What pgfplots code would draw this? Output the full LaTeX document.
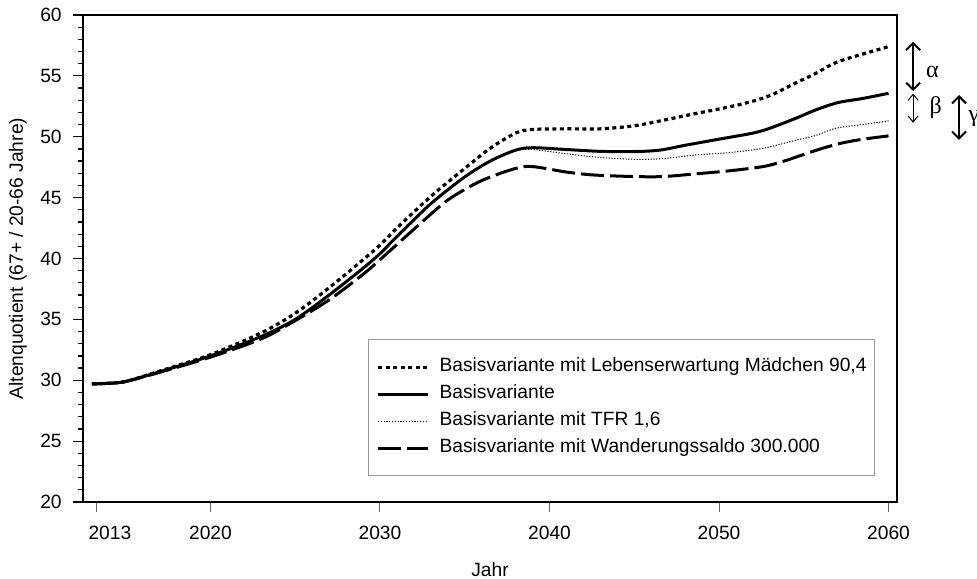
\documentclass[border=0pt]{standalone}
\usepackage{pgfplots}
\pgfplotsset{compat=1.18}
\usepackage{fontspec}
\setmainfont{Liberation Sans}
\newfontfamily\greekfont{Liberation Serif}
\usetikzlibrary{arrows.meta,calc}

\begin{document}
\fontsize{9.6pt}{11.5pt}\selectfont
\begin{tikzpicture}
\begin{axis}[
  scale only axis, width=407pt, height=243.5pt,
  xmin=2012.48, xmax=2060.5, ymin=20, ymax=60,
  xtick={2013.3,2020,2030,2040,2050,2060},
  xticklabels={\hspace*{13pt}2013,2020,2030,2040,2050,2060},
  ytick={20,25,...,60},
  minor y tick num=4,
  tick align=outside,
  xtick pos=bottom, ytick pos=left,
  major tick length=5pt, minor tick length=2.5pt,
  x tick style={black!60, line width=0.5pt},
  y tick style={black, line width=0.6pt},
  axis line style={line width=0.7pt},
  /pgf/number format/assume math mode=true,
  yticklabel style={xshift=-2.3pt},
  xticklabel style={yshift=-3.5pt},
  ylabel={Altenquotient (67+ / 20-66 Jahre)},
  ylabel style={at={(axis description cs:-0.0799,0.5)}, anchor=center},
  xlabel={Jahr},
  xlabel style={at={(axis description cs:0.5,-0.138)}, anchor=center},
  legend style={at={(0.973,0.053)}, anchor=south east, draw=black!40, line width=0.5pt,
    inner xsep=4pt, inner ysep=9pt, row sep=4pt,
    nodes={inner sep=0pt, text height=7pt, text depth=2.5pt}},
  legend cell align=left,
  legend image code/.code={\draw[#1] (0pt,0pt) -- (25pt,0pt); \path (30pt,0pt);},
  clip=false,
]
\coordinate (ll) at (rel axis cs:0,0);

\addplot[black, line width=1.6pt, dash pattern=on 2pt off 1.75pt, smooth] coordinates {
(2013,29.7)(2014,29.75)(2015,29.9)(2017,30.75)(2020,32.1)(2023,33.9)(2025,35.5)(2027,37.6)(2029,39.9)(2030,41.1)(2031,42.5)(2033,45.1)(2035,47.4)(2036.5,49.05)(2038,50.3)(2039,50.6)(2041,50.65)(2043,50.65)(2045,50.9)(2046.7,51.35)(2048.6,51.9)(2050.6,52.45)(2052.2,53.0)(2053.2,53.5)(2054.5,54.4)(2055.7,55.2)(2056.9,56.1)(2058.5,56.8)(2060,57.4)
};
\addlegendentry{Basisvariante mit Lebenserwartung Mädchen 90,4}

\addplot[black, line width=1.5pt, smooth] coordinates {
(2013,29.7)(2014,29.75)(2015,29.9)(2017,30.7)(2020,32.0)(2023,33.6)(2025,35.0)(2027,37.0)(2029,39.2)(2030,40.4)(2031,41.8)(2033,44.5)(2035,46.7)(2036.5,48.0)(2038,48.9)(2039,49.1)(2041,48.95)(2043,48.8)(2045,48.78)(2046.5,48.9)(2048,49.3)(2050,49.8)(2052,50.3)(2053,50.7)(2054.5,51.5)(2055.7,52.2)(2057,52.8)(2058.5,53.15)(2060,53.57)
};
\addlegendentry{Basisvariante}

\addplot[black, line width=0.5pt, dash pattern=on 0.6pt off 0.8pt, smooth] coordinates {
(2013,29.7)(2014,29.75)(2015,29.9)(2017,30.7)(2020,32.0)(2023,33.6)(2025,35.0)(2027,37.0)(2029,39.2)(2030,40.4)(2031,41.8)(2033,44.5)(2035,46.7)(2036.5,48.0)(2038,48.85)(2039,48.95)(2041,48.6)(2043,48.3)(2045,48.15)(2046.7,48.2)(2048.6,48.5)(2050.6,48.7)(2052.6,49.05)(2054.5,49.7)(2055.7,50.1)(2056.9,50.7)(2058.5,51.0)(2060,51.3)
};
\addlegendentry{Basisvariante mit TFR 1,6}

\addplot[black, line width=1.5pt, dash pattern=on 11.5pt off 3pt, smooth] coordinates {
(2013,29.7)(2014,29.75)(2015,29.9)(2017,30.65)(2020,31.9)(2023,33.4)(2025,34.9)(2027,36.6)(2029,38.7)(2030,39.9)(2032,42.4)(2034,44.8)(2036,46.4)(2038,47.4)(2039,47.55)(2041,47.1)(2042.6,46.86)(2045,46.73)(2046.7,46.73)(2048.6,46.95)(2050.6,47.2)(2052.6,47.55)(2053.75,47.96)(2054.9,48.5)(2056.1,49.05)(2057.3,49.5)(2058.5,49.8)(2060,50.07)
};
\addlegendentry{Basisvariante mit Wanderungssaldo 300.000}

\draw[line width=1pt, {Straight Barb[length=3.5pt,width=7pt]}-{Straight Barb[length=3.5pt,width=7pt]}] (axis cs:2061.45,57.8) -- (axis cs:2061.45,53.75);
\draw[line width=0.5pt, {Straight Barb[length=3pt,width=5pt]}-{Straight Barb[length=3pt,width=5pt]}] (axis cs:2061.45,53.55) -- (axis cs:2061.45,51.15);
\draw[line width=1pt, {Straight Barb[length=3.5pt,width=7pt]}-{Straight Barb[length=3.5pt,width=7pt]}] (axis cs:2064.16,53.43) -- (axis cs:2064.16,49.74);
\node[anchor=west, inner sep=0pt, font=\greekfont\fontsize{12pt}{12pt}\selectfont] at (axis cs:2062.2,55.3) {α};
\node[anchor=west, inner sep=0pt, font=\greekfont\fontsize{12pt}{12pt}\selectfont] at (axis cs:2062.4,52.4) {β};
\node[anchor=west, inner sep=0pt, font=\greekfont\fontsize{12pt}{12pt}\selectfont] at (axis cs:2064.7,51.5) {γ};
\end{axis}
\pgfresetboundingbox
\useasboundingbox ($(ll)+(-41.5pt,-38pt)$) rectangle ($(ll)+(447pt,251pt)$);
\end{tikzpicture}
\end{document}
